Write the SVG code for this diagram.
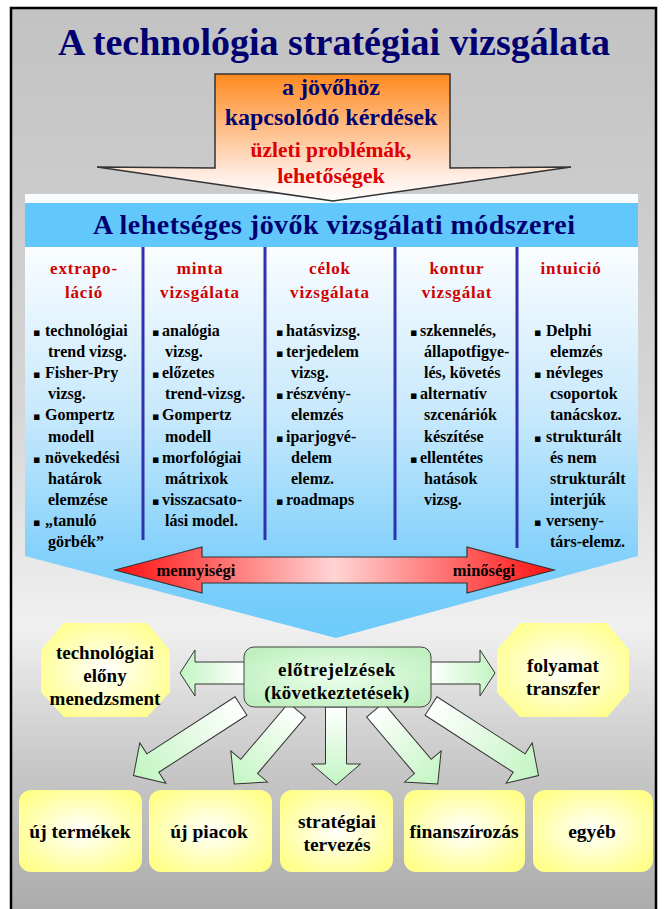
<svg xmlns="http://www.w3.org/2000/svg" width="664" height="909" viewBox="0 0 664 909">
<defs>
<linearGradient id="bg" x1="0" y1="0" x2="0" y2="909" gradientUnits="userSpaceOnUse">
<stop offset="0" stop-color="#c2c2c2"/><stop offset="0.45" stop-color="#d6d6d6"/><stop offset="0.69" stop-color="#f0f0f0"/><stop offset="0.85" stop-color="#c6c6c6"/><stop offset="1" stop-color="#acacac"/>
</linearGradient>
<linearGradient id="org" x1="0" y1="74" x2="0" y2="201" gradientUnits="userSpaceOnUse">
<stop offset="0" stop-color="#ff8a1f"/><stop offset="0.45" stop-color="#ffc08c"/><stop offset="0.8" stop-color="#ffece2"/><stop offset="1" stop-color="#ffffff"/>
</linearGradient>
<linearGradient id="pan" x1="0" y1="247" x2="0" y2="630" gradientUnits="userSpaceOnUse">
<stop offset="0" stop-color="#fafdff"/><stop offset="0.45" stop-color="#c6e8fc"/><stop offset="0.8" stop-color="#84d1fb"/><stop offset="1" stop-color="#6ecbfa"/>
</linearGradient>
<linearGradient id="red" x1="115" y1="0" x2="554" y2="0" gradientUnits="userSpaceOnUse">
<stop offset="0" stop-color="#ff1010"/><stop offset="0.5" stop-color="#ffd4d4"/><stop offset="1" stop-color="#ff1010"/>
</linearGradient>
<radialGradient id="yel" cx="0.5" cy="0.5" r="0.6">
<stop offset="0" stop-color="#ffffff"/><stop offset="0.35" stop-color="#ffffd6"/><stop offset="1" stop-color="#ffff8a"/>
</radialGradient>
<radialGradient id="grn" cx="0.5" cy="0.5" r="0.6">
<stop offset="0" stop-color="#ecffec"/><stop offset="1" stop-color="#c0f0c0"/>
</radialGradient>
<linearGradient id="arw" x1="0" y1="0" x2="1" y2="0">
<stop offset="0" stop-color="#ffffff"/><stop offset="1" stop-color="#c2f5c2"/>
</linearGradient>
<style>
text{font-family:"Liberation Serif","Times New Roman",serif;font-weight:bold}
.c{text-anchor:middle}
.navy{fill:#000070}
.rd{fill:#e00000}
.ch{font-size:17px;fill:#d00000;letter-spacing:0.8px;text-anchor:middle}
.bl{font-size:16px;fill:#000}
.b{font-family:"DejaVu Sans",sans-serif;font-size:11px}
.nd{font-size:19px;fill:#000;text-anchor:middle}
.bt{font-size:19.5px;fill:#000;text-anchor:middle}
.sep{stroke:#3030b0;stroke-width:3}
.ga{fill:url(#arw);stroke:#333;stroke-width:1}
</style>
</defs>
<rect width="664" height="909" fill="#fff"/>
<rect x="11" y="8" width="645" height="910" fill="url(#bg)" stroke="#000" stroke-width="2.5"/>

<g id="title">
<text x="334" y="55" class="c navy" font-size="38">A technológia stratégiai vizsgálata</text>
</g>

<g id="methods-panel">
<path d="M25,194 H638 V556 L336,638 L25,556 Z" fill="url(#pan)"/>
<rect x="25" y="203" width="613" height="44" fill="#62c8fb"/>
<text x="334" y="234" class="c navy" font-size="28" textLength="482" lengthAdjust="spacing">A lehetséges jövők vizsgálati módszerei</text>
<line class="sep" x1="143" y1="247" x2="143" y2="540"/>
<line class="sep" x1="265" y1="247" x2="265" y2="540"/>
<line class="sep" x1="395" y1="247" x2="395" y2="540"/>
<line class="sep" x1="517" y1="247" x2="517" y2="548"/>
</g>

<g id="input-arrow">
<path d="M215,74 H450 V168 L571,167 L333,201 L97,167 L215,168 Z" fill="url(#org)" stroke="#333" stroke-width="1.5"/>
<text x="331" y="95" class="c navy" font-size="24">a jövőhöz</text>
<text x="331" y="125" class="c navy" font-size="24">kapcsolódó kérdések</text>
<text x="331" y="157" class="c rd" font-size="21.5">üzleti problémák,</text>
<text x="331" y="183" class="c rd" font-size="22">lehetőségek</text>
</g>

<g id="col-extrapolacio">
<text class="ch" x="84" y="274">extrapo-</text>
<text class="ch" x="84" y="298">láció</text>
<text class="bl" x="33" y="336"><tspan class="b">▪</tspan><tspan x="45">technológiai</tspan></text>
<text class="bl" x="48" y="357">trend vizsg.</text>
<text class="bl" x="33" y="378"><tspan class="b">▪</tspan><tspan x="45">Fisher-Pry</tspan></text>
<text class="bl" x="48" y="399">vizsg.</text>
<text class="bl" x="33" y="420"><tspan class="b">▪</tspan><tspan x="45">Gompertz</tspan></text>
<text class="bl" x="48" y="442">modell</text>
<text class="bl" x="33" y="463"><tspan class="b">▪</tspan><tspan x="45">növekedési</tspan></text>
<text class="bl" x="48" y="484">határok</text>
<text class="bl" x="48" y="505">elemzése</text>
<text class="bl" x="33" y="526"><tspan class="b">▪</tspan><tspan x="45">„tanuló</tspan></text>
<text class="bl" x="48" y="547">görbék”</text>
</g>

<g id="col-minta">
<text class="ch" x="200" y="274">minta</text>
<text class="ch" x="200" y="298">vizsgálata</text>
<text class="bl" x="152" y="336"><tspan class="b">▪</tspan><tspan x="162">analógia</tspan></text>
<text class="bl" x="165" y="357">vizsg.</text>
<text class="bl" x="152" y="378"><tspan class="b">▪</tspan><tspan x="162">előzetes</tspan></text>
<text class="bl" x="165" y="399">trend-vizsg.</text>
<text class="bl" x="152" y="420"><tspan class="b">▪</tspan><tspan x="162">Gompertz</tspan></text>
<text class="bl" x="165" y="442">modell</text>
<text class="bl" x="152" y="463"><tspan class="b">▪</tspan><tspan x="162">morfológiai</tspan></text>
<text class="bl" x="165" y="484">mátrixok</text>
<text class="bl" x="152" y="505"><tspan class="b">▪</tspan><tspan x="162">visszacsato-</tspan></text>
<text class="bl" x="165" y="526">lási model.</text>
</g>

<g id="col-celok">
<text class="ch" x="330" y="274">célok</text>
<text class="ch" x="330" y="298">vizsgálata</text>
<text class="bl" x="276" y="336"><tspan class="b">▪</tspan><tspan x="286">hatásvizsg.</tspan></text>
<text class="bl" x="276" y="357"><tspan class="b">▪</tspan><tspan x="286">terjedelem</tspan></text>
<text class="bl" x="291" y="378">vizsg.</text>
<text class="bl" x="276" y="399"><tspan class="b">▪</tspan><tspan x="286">részvény-</tspan></text>
<text class="bl" x="291" y="420">elemzés</text>
<text class="bl" x="276" y="442"><tspan class="b">▪</tspan><tspan x="286">iparjogvé-</tspan></text>
<text class="bl" x="291" y="463">delem</text>
<text class="bl" x="291" y="484">elemz.</text>
<text class="bl" x="276" y="505"><tspan class="b">▪</tspan><tspan x="286">roadmaps</tspan></text>
</g>

<g id="col-kontur">
<text class="ch" x="457" y="274">kontur</text>
<text class="ch" x="457" y="298">vizsgálat</text>
<text class="bl" x="410" y="336"><tspan class="b">▪</tspan><tspan x="420">szkennelés,</tspan></text>
<text class="bl" x="424" y="357">állapotfigye-</text>
<text class="bl" x="424" y="378">lés, követés</text>
<text class="bl" x="410" y="399"><tspan class="b">▪</tspan><tspan x="420">alternatív</tspan></text>
<text class="bl" x="424" y="420">szcenáriók</text>
<text class="bl" x="424" y="442">készítése</text>
<text class="bl" x="410" y="463"><tspan class="b">▪</tspan><tspan x="420">ellentétes</tspan></text>
<text class="bl" x="424" y="484">hatások</text>
<text class="bl" x="424" y="505">vizsg.</text>
</g>

<g id="col-intuicio">
<text class="ch" x="571" y="274">intuició</text>
<text class="bl" x="534" y="336"><tspan class="b">▪</tspan><tspan x="546">Delphi</tspan></text>
<text class="bl" x="550" y="357">elemzés</text>
<text class="bl" x="534" y="378"><tspan class="b">▪</tspan><tspan x="546">névleges</tspan></text>
<text class="bl" x="550" y="399">csoportok</text>
<text class="bl" x="550" y="420">tanácskoz.</text>
<text class="bl" x="534" y="442"><tspan class="b">▪</tspan><tspan x="546">strukturált</tspan></text>
<text class="bl" x="550" y="463">és nem</text>
<text class="bl" x="550" y="484">strukturált</text>
<text class="bl" x="550" y="505">interjúk</text>
<text class="bl" x="534" y="526"><tspan class="b">▪</tspan><tspan x="546">verseny-</tspan></text>
<text class="bl" x="550" y="547">társ-elemz.</text>
</g>

<g id="scale-arrow">
<path d="M115,570 L202,547 V557 H467 V547 L554,570 L467,593 V583 H202 V593 Z" fill="url(#red)" stroke="#333" stroke-width="1.2"/>
<text x="196" y="576" class="c" font-size="16.5" fill="#000">mennyiségi</text>
<text x="484" y="576" class="c" font-size="16.5" fill="#000">minőségi</text>
</g>

<g id="connectors">
<path class="ga" transform="translate(246,673) rotate(180)" d="M0,-11 H51 V-23 L66,0 L51,23 V11 H0 Z"/>
<path class="ga" transform="translate(429,673)" d="M0,-11 H51 V-23 L66,0 L51,23 V11 H0 Z"/>
<path class="ga" transform="translate(241,706) rotate(147.1)" d="M0,-11 H105 V-24 L128,0 L105,24 V11 H0 Z"/>
<path class="ga" transform="translate(297,710) rotate(130.3)" d="M0,-11 H74 V-24 L97,0 L74,24 V11 H0 Z"/>
<path class="ga" transform="translate(336,707) rotate(90)" d="M0,-10.5 H57 V-24.5 L78,0 L57,24.5 V10.5 H0 Z"/>
<path class="ga" transform="translate(375,710) rotate(49.7)" d="M0,-11 H74 V-24 L97,0 L74,24 V11 H0 Z"/>
<path class="ga" transform="translate(431,706) rotate(32.9)" d="M0,-11 H105 V-24 L128,0 L105,24 V11 H0 Z"/>
</g>

<g id="node-elony">
<path d="M64,623 H147 L170,650 V692 L147,717 H64 L41,692 V650 Z" fill="url(#yel)"/>
<text class="nd" x="105" y="659">technológiai</text>
<text class="nd" x="105" y="682">előny</text>
<text class="nd" x="105" y="705">menedzsment</text>
</g>

<g id="node-transzfer">
<path d="M520,623 H607 L629,650 V692 L607,717 H520 L497,692 V650 Z" fill="url(#yel)"/>
<text class="nd" x="563" y="672">folyamat</text>
<text class="nd" x="563" y="695">transzfer</text>
</g>

<g id="node-elotrejelzesek">
<rect x="244" y="647" width="187" height="60" rx="10" fill="url(#grn)" stroke="#444" stroke-width="1"/>
<text class="nd" x="337" y="676" font-size="20" letter-spacing="0.6">előtrejelzések</text>
<text class="nd" x="337" y="699" font-size="20" letter-spacing="0.3">(következtetések)</text>
</g>

<g id="node-termekek">
<rect x="19" y="790" width="123" height="82" rx="12" fill="url(#yel)"/>
<text class="bt" x="80" y="838">új termékek</text>
</g>
<g id="node-piacok">
<rect x="149" y="790" width="123" height="82" rx="12" fill="url(#yel)"/>
<text class="bt" x="209" y="838">új piacok</text>
</g>
<g id="node-tervezes">
<rect x="280" y="790" width="113" height="82" rx="12" fill="url(#yel)"/>
<text class="bt" x="337" y="828">stratégiai</text>
<text class="bt" x="337" y="851">tervezés</text>
</g>
<g id="node-finanszirozas">
<rect x="404" y="790" width="121" height="82" rx="12" fill="url(#yel)"/>
<text class="bt" x="464" y="838">finanszírozás</text>
</g>
<g id="node-egyeb">
<rect x="533" y="790" width="120" height="82" rx="12" fill="url(#yel)"/>
<text class="bt" x="592" y="838">egyéb</text>
</g>
</svg>
